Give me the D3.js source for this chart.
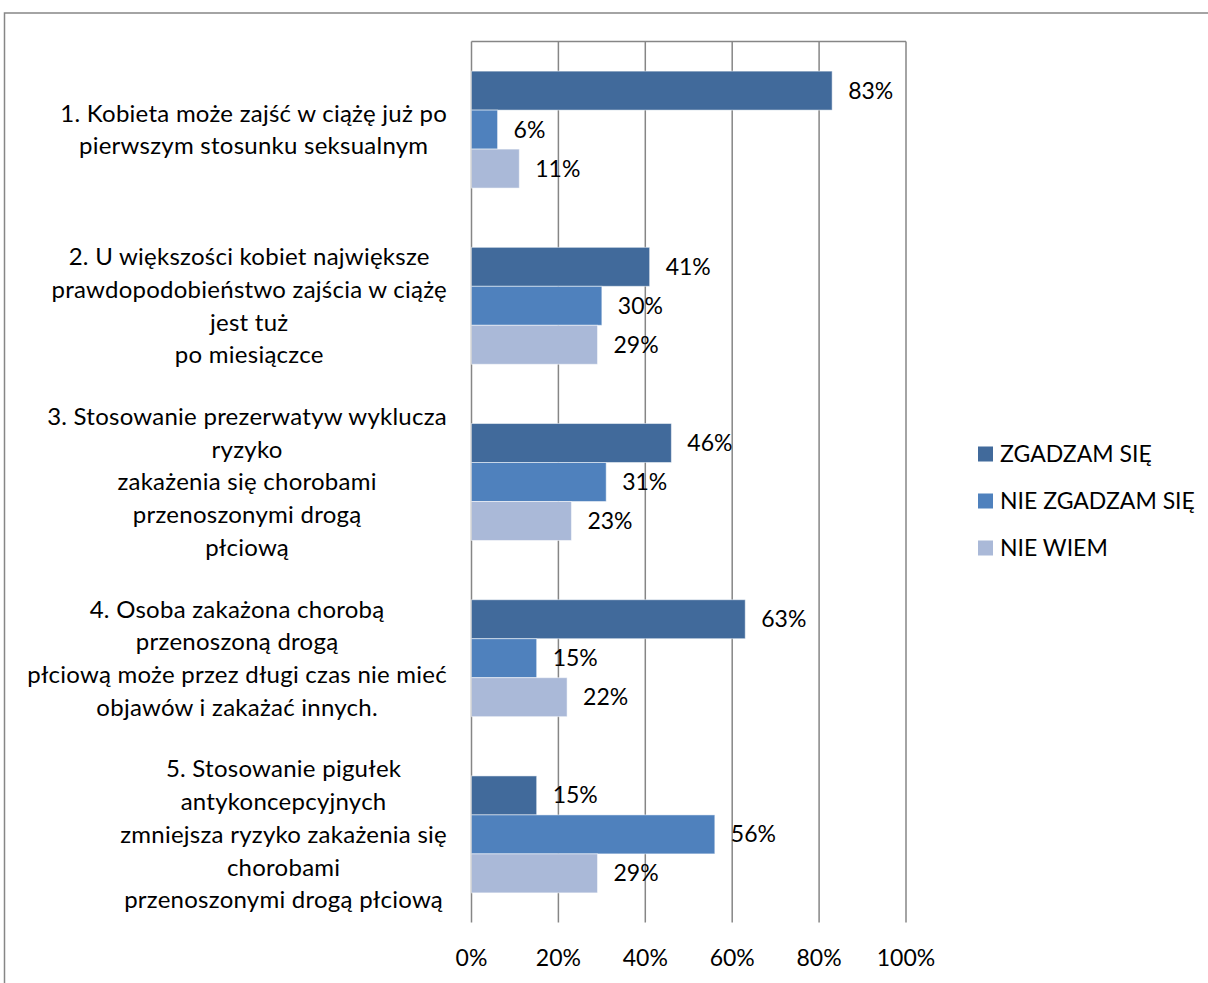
<!DOCTYPE html>
<html>
<head>
<meta charset="utf-8">
<script src="https://cdn.jsdelivr.net/npm/d3@7"></script>
<style>
  body { margin: 0; background: #fff; }
  svg text { font-family: Lato, "Open Sans", sans-serif; fill: #000; }
</style>
</head>
<body>
<div id="chart-area"></div>
<script>
// pytania (kategorie) - kazda linia osobno
var categories = [
    ["1. Kobieta może zajść w ciążę już po", "pierwszym stosunku seksualnym"],
    ["2. U większości kobiet największe", "prawdopodobieństwo zajścia w ciążę", "jest tuż", "po miesiączce"],
    ["3. Stosowanie prezerwatyw wyklucza", "ryzyko", "zakażenia się chorobami", "przenoszonymi drogą", "płciową"],
    ["4. Osoba zakażona chorobą", "przenoszoną drogą", "płciową może przez długi czas nie mieć", "objawów i zakażać innych."],
    ["5. Stosowanie pigułek", "antykoncepcyjnych", "zmniejsza ryzyko zakażenia się", "chorobami", "przenoszonymi drogą płciową"]
];
var seriesNames = ["ZGADZAM SIĘ", "NIE ZGADZAM SIĘ", "NIE WIEM"];
var zgadzam    = [83, 41, 46, 63, 15];
var nieZgadzam = [6, 30, 31, 15, 56];
var nieWiem    = [11, 29, 23, 22, 29];
var ticks = [0, 20, 40, 60, 80, 100];
var colors = ["#416a9b", "#4f81bd", "#aab9d8"];

var W = 1208, H = 983;
var plotLeft = 471.5, plotRight = 906, plotTop = 41.5, plotBottom = 922.5;

var svg = d3.select("#chart-area")
    .append("svg")
    .attr("width", W)
    .attr("height", H);

// ramka wykresu
svg.append("rect")
    .attr("x", 4.5).attr("y", 13)
    .attr("width", W + 20).attr("height", H + 20)
    .attr("fill", "none")
    .attr("stroke", "#868686")
    .attr("stroke-width", 1.5);

var x = d3.scaleLinear().domain([0, 100]).range([plotLeft, plotRight]);

var y = d3.scaleBand()
    .domain(d3.range(categories.length))
    .range([plotTop, plotBottom])
    .padding(0);

var ySeries = d3.scaleBand()
    .domain(d3.range(seriesNames.length))
    .range([0, y.bandwidth()])
    .paddingInner(0)
    .paddingOuter(0.76);

// linie siatki
svg.selectAll(".grid")
    .data(ticks)
    .enter()
    .append("line")
    .attr("class", "grid")
    .attr("x1", d => x(d)).attr("x2", d => x(d))
    .attr("y1", plotTop).attr("y2", plotBottom)
    .attr("stroke", "#868686")
    .attr("stroke-width", 1.5);

svg.append("line")
    .attr("x1", plotLeft).attr("x2", plotRight)
    .attr("y1", plotTop).attr("y2", plotTop)
    .attr("stroke", "#868686")
    .attr("stroke-width", 1.5);

var data = [];
categories.forEach(function(c, i) {
    [zgadzam, nieZgadzam, nieWiem].forEach(function(s, j) {
        data.push({cat: i, ser: j, value: s[i]});
    });
});

svg.selectAll(".bar")
    .data(data)
    .enter()
    .append("rect")
    .attr("class", "bar")
    .attr("x", x(0))
    .attr("y", d => y(d.cat) + ySeries(d.ser))
    .attr("width", d => x(d.value) - x(0))
    .attr("height", ySeries.bandwidth())
    .attr("fill", d => colors[d.ser])
    .attr("stroke", "#fff")
    .attr("stroke-opacity", 0.5)
    .attr("stroke-width", 1);

svg.selectAll(".val")
    .data(data)
    .enter()
    .append("text")
    .attr("class", "val")
    .attr("x", d => x(d.value) + 16)
    .attr("y", d => y(d.cat) + ySeries(d.ser) + ySeries.bandwidth() / 2)
    .attr("dy", "0.35em")
    .attr("font-size", 23)
    .text(d => d.value + "%");

// os X - etykiety na dole
svg.selectAll(".tick-label")
    .data(ticks)
    .enter()
    .append("text")
    .attr("class", "tick-label")
    .attr("x", d => x(d))
    .attr("y", 958)
    .attr("dy", "0.35em")
    .attr("text-anchor", "middle")
    .attr("font-size", 23)
    .text(d => d + "%");

// etykiety kategorii - wysrodkowane w bloku wyrownanym do prawej
var lineH = 32.7;
categories.forEach(function(lines, i) {
    var g = svg.append("g");
    var cy = y(i) + y.bandwidth() / 2;
    var t = g.selectAll("text")
        .data(lines)
        .enter()
        .append("text")
        .attr("y", (d, k) => cy + (k - (lines.length - 1) / 2) * lineH)
        .attr("dy", "0.35em")
        .attr("text-anchor", "middle")
        .attr("font-size", 24)
        .attr("letter-spacing", 0.25)
        .text(d => d);
    var maxW = d3.max(t.nodes(), n => n.getComputedTextLength());
    t.attr("x", 447 - maxW / 2);
});

// legenda
var legend = svg.selectAll(".legend")
    .data(seriesNames)
    .enter()
    .append("g")
    .attr("class", "legend")
    .attr("transform", (d, i) => "translate(978," + (454 + i * 47) + ")");

legend.append("rect")
    .attr("x", 0).attr("y", -7.5)
    .attr("width", 15).attr("height", 15)
    .attr("fill", (d, i) => colors[i]);

legend.append("text")
    .attr("x", 22)
    .attr("y", 0)
    .attr("dy", "0.35em")
    .attr("font-size", 23)
    .text(d => d);
</script>
</body>
</html>
